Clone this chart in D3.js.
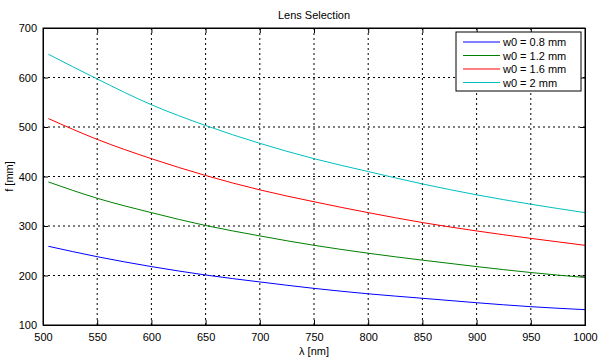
<!DOCTYPE html>
<html>
<head>
<meta charset="utf-8">
<script src="https://cdn.jsdelivr.net/npm/d3@7"></script>
<style>
  body { margin: 0; background: #fff; }
  text { font-family: "Liberation Sans", Arial, sans-serif; }
</style>
</head>
<body>
<script>

// wavelengths sampled along the curves (nm)
var lambdas = [505, 550, 600, 650, 700, 750, 800, 850, 900, 950, 1000];

// focal lengths (mm)
var f_08 = [259, 238, 218, 201, 187, 174, 163, 154, 145, 137, 131];
var f_12 = [389, 356, 327, 301, 280, 261, 245, 231, 218, 206, 196];
var f_16 = [517, 475, 436, 402, 373, 349, 327, 307, 290, 275, 261];
var f_20 = [647, 597, 545, 503, 467, 436, 410, 385, 363, 344, 327];

var series_names = ["w0 = 0.8 mm", "w0 = 1.2 mm", "w0 = 1.6 mm", "w0 = 2 mm"];
var series_colors = ["#0000ff", "#007f00", "#ff0000", "#00bfbf"];

var x_ticks = [500, 550, 600, 650, 700, 750, 800, 850, 900, 950, 1000];
var y_ticks = [100, 200, 300, 400, 500, 600, 700];

var series = [f_08, f_12, f_16, f_20];

// plot area
var margin = {top: 28, right: 18, bottom: 35, left: 43};
var width = 603 - margin.left - margin.right;
var height = 360 - margin.top - margin.bottom;

var svg = d3.select("body")
            .append("svg")
            .attr("width", 603)
            .attr("height", 360);

var g = svg.append("g")
           .attr("transform", "translate(" + margin.left + "," + margin.top + ")");

var x_scale = d3.scaleLinear()
    .domain([500, 1000])
    .range([0, width]);

var y_scale = d3.scaleLinear()
    .domain([100, 700])
    .range([height, 0]);

// dotted grid lines
g.selectAll(".vgrid")
  .data(x_ticks.slice(1, -1))
  .enter()
  .append("line")
  .attr("x1", function(d) { return x_scale(d); })
  .attr("x2", function(d) { return x_scale(d); })
  .attr("y1", 0)
  .attr("y2", height)
  .attr("stroke", "#000")
  .attr("stroke-width", 1)
  .attr("stroke-dasharray", "2,3");

g.selectAll(".hgrid")
  .data(y_ticks.slice(1, -1))
  .enter()
  .append("line")
  .attr("x1", 0)
  .attr("x2", width)
  .attr("y1", function(d) { return y_scale(d); })
  .attr("y2", function(d) { return y_scale(d); })
  .attr("stroke", "#000")
  .attr("stroke-width", 1)
  .attr("stroke-dasharray", "2,3");

// the curves
var line = d3.line()
    .x(function(d, i) { return x_scale(lambdas[i]); })
    .y(function(d) { return y_scale(d); })
    .curve(d3.curveMonotoneX);

series.forEach(function(s, i) {
  g.append("path")
    .attr("d", line(s))
    .attr("fill", "none")
    .attr("stroke", series_colors[i])
    .attr("stroke-width", 1);
});

// axes with inward ticks on all sides
var x_axis = d3.axisBottom(x_scale).tickValues(x_ticks).tickSize(-5).tickPadding(8).tickFormat(d3.format("d"));
var y_axis = d3.axisLeft(y_scale).tickValues(y_ticks).tickSize(-5).tickPadding(6).tickFormat(d3.format("d"));

g.append("g")
  .attr("transform", "translate(0," + height + ")")
  .call(x_axis);
g.append("g").call(y_axis);

g.append("g")
  .call(d3.axisTop(x_scale).tickValues(x_ticks).tickSize(-5).tickFormat(""));
g.append("g")
  .attr("transform", "translate(" + width + ",0)")
  .call(d3.axisRight(y_scale).tickValues(y_ticks).tickSize(-5).tickFormat(""));

svg.selectAll(".domain").attr("stroke", "#000").attr("stroke-width", 1);
svg.selectAll(".tick line").attr("stroke", "#000");
svg.selectAll(".tick text")
   .attr("font-family", "Liberation Sans, Arial, sans-serif")
   .attr("font-size", "11px")
   .attr("fill", "#000");

// box
g.append("rect")
  .attr("width", width)
  .attr("height", height)
  .attr("fill", "none")
  .attr("stroke", "#000");

// title and axis labels
svg.append("text")
  .attr("x", margin.left + width / 2)
  .attr("y", 19)
  .attr("text-anchor", "middle")
  .attr("font-size", "11px")
  .text("Lens Selection");

svg.append("text")
  .attr("x", margin.left + width / 2)
  .attr("y", 355)
  .attr("text-anchor", "middle")
  .attr("font-size", "11px")
  .text("λ [nm]");

svg.append("text")
  .attr("transform", "translate(13," + (margin.top + height / 2) + ") rotate(-90)")
  .attr("text-anchor", "middle")
  .attr("font-size", "11px")
  .text("f [mm]");

// legend
var legend = svg.append("g")
  .attr("transform", "translate(456,32)");

legend.append("rect")
  .attr("width", 125)
  .attr("height", 59)
  .attr("fill", "#fff")
  .attr("stroke", "#000");

series_names.forEach(function(name, i) {
  var yy = 10 + i * 13.5;
  legend.append("line")
    .attr("x1", 7)
    .attr("x2", 44)
    .attr("y1", yy)
    .attr("y2", yy)
    .attr("stroke", series_colors[i]);
  legend.append("text")
    .attr("x", 47)
    .attr("y", yy + 4)
    .attr("font-size", "11px")
    .text(name);
});

</script>
</body>
</html>
